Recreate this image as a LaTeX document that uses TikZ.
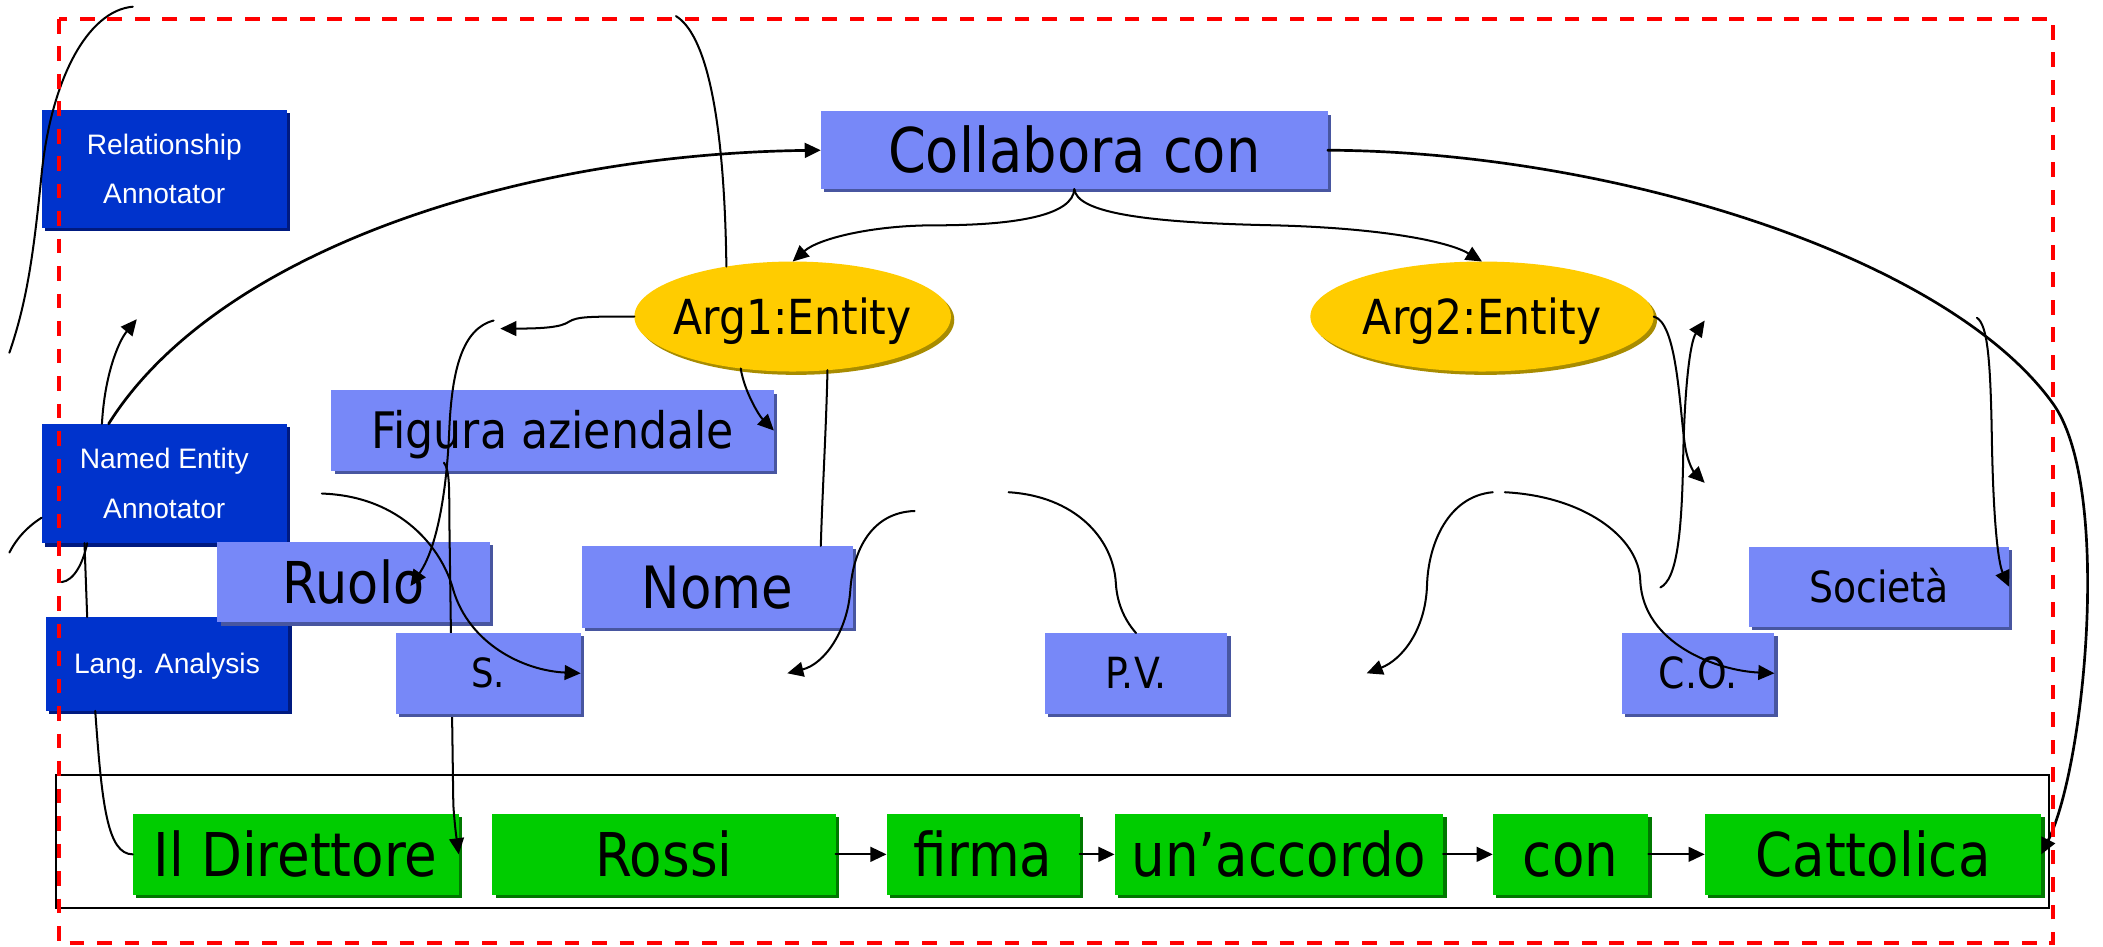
\documentclass[tikz,border=0pt]{standalone}
\usepackage{fontspec}
\setmainfont{DejaVu Sans}[FakeStretch=0.88]
\newfontfamily\annfont{Liberation Sans}
\usetikzlibrary{arrows.meta,shapes.geometric,shadows,calc}

\definecolor{peri}{RGB}{119,136,248}
\definecolor{perishadow}{RGB}{72,86,160}
\definecolor{annblue}{RGB}{0,51,204}
\definecolor{annshadow}{RGB}{0,26,128}
\definecolor{wordgreen}{RGB}{0,204,0}
\definecolor{wordshadow}{RGB}{0,120,0}
\definecolor{argyellow}{RGB}{255,204,0}
\definecolor{argshadow}{RGB}{168,140,0}

\tikzset{
  shadowed/.style={drop shadow={shadow xshift=2.5pt, shadow yshift=-2.5pt, fill=#1, opacity=1}},
  conceptbox/.style={rectangle, inner sep=0pt, outer sep=0pt, fill=peri, shadowed=perishadow, minimum height=60pt, text depth=0pt},
  wordbox/.style={rectangle, inner sep=0pt, outer sep=0pt, fill=wordgreen, shadowed=wordshadow, minimum height=60pt,
    font=\fontsize{45pt}{45pt}\selectfont, text height=32.8pt, text depth=0pt},
  annbox/.style={rectangle, inner sep=0pt, outer sep=0pt, fill=annblue, shadowed=annshadow, text=white, align=center,
    font=\annfont\fontsize{21pt}{37pt}\selectfont},
  argell/.style={ellipse, inner sep=0pt, outer sep=0pt, fill=argyellow, shadowed=argshadow, minimum width=#1, minimum height=82pt},
  argtext/.style={inner sep=0pt, font=\fontsize{36pt}{36pt}\selectfont, text height=26.3pt, text depth=0pt},
  conn/.style={line width=1.5pt, line cap=round, line join=round},
  arr/.style={conn, -{Triangle[length=12pt,width=11pt]}},
}

\begin{document}
\begin{tikzpicture}[x=1pt, y=-1pt]
\useasboundingbox (0,0) rectangle (1568,706);
\fill[white] (0,0) rectangle (1568,706);

% sentence frame
\draw[line width=1.5pt] (42,578) rectangle (1528,677);

% annotators
\node[annbox, minimum width=183pt, minimum height=88pt] (rel) at (122.5,126) {Relationship\\Annotator};
\node[annbox, minimum width=183pt, minimum height=89pt] (nea) at (122.5,360.5) {Named Entity\\Annotator};
\node[annbox, minimum width=181pt, minimum height=70pt, text height=15pt, text depth=0pt] (lang) at (124.5,495) {Lang. Analysis};

% relation and arguments
\node[conceptbox, minimum width=378pt, minimum height=58pt, font=\fontsize{46pt}{46pt}\selectfont, text height=33.6pt] (collab) at (801,112) {Collabora con};
\node[argell=236pt] (arg1) at (591,236) {};
\node[argtext] (arg1t) at (arg1) {Arg1:Entity};
\node[argell=256pt] (arg2) at (1105,236) {};
\node[argtext] (arg2t) at (arg2) {Arg2:Entity};

% entity types and features
\node[conceptbox, minimum width=330pt, font=\fontsize{37.5pt}{37.5pt}\selectfont, text height=27.4pt] (figura) at (412,321) {Figura aziendale};
\node[conceptbox, minimum width=203pt, font=\fontsize{43pt}{43pt}\selectfont, text height=31.4pt] (ruolo) at (263.5,434) {Ruolo};
\node[conceptbox, minimum width=202pt, minimum height=61pt, font=\fontsize{43.5pt}{43.5pt}\selectfont, text height=31.8pt] (nome) at (535,437.5) {Nome};
\node[conceptbox, minimum width=136pt, font=\fontsize{32pt}{32pt}\selectfont, text height=23.4pt] (pv) at (847,502) {P.V.};
\node[conceptbox, minimum width=114pt, font=\fontsize{32pt}{32pt}\selectfont, text height=23.4pt] (co) at (1266,502) {C.O.};
\node[conceptbox, minimum width=194pt, font=\fontsize{32pt}{32pt}\selectfont, text height=23.4pt] (soc) at (1401,437.5) {Società};

% words of the sentence
\node[wordbox, minimum width=243pt] (w1) at (220.5,637) {Il Direttore};
\node[wordbox, minimum width=256pt] (w2) at (495,637) {Rossi};
\node[wordbox, minimum width=144pt] (w3) at (733,637) {firma};
\node[wordbox, minimum width=245pt] (w4) at (953.5,637) {un’accordo};
\node[wordbox, minimum width=116pt] (w5) at (1171,637) {con};
\node[wordbox, minimum width=251pt] (w6) at (1396.5,637) {Cattolica};

% free ends of connectors
\coordinate (c4b) at (102,238);
\coordinate (c5a) at (99,5);
\coordinate (c5b) at (7,263);
\coordinate (c6a) at (504,12);
\coordinate (tipL) at (373,245);
\coordinate (c8a) at (368,239);
\coordinate (c8b) at (306,437);
\coordinate (c9a) at (331,345);
\coordinate (c12a) at (240,368);
\coordinate (c13a) at (682,381);
\coordinate (c13b) at (587,502);
\coordinate (c14a) at (752,367);
\coordinate (c15a) at (1113,367);
\coordinate (c15b) at (1019,502);
\coordinate (c16a) at (1122,367);
\coordinate (c17b) at (1271,360);
\coordinate (c18a) at (1238,438);
\coordinate (c18b) at (1271,239);
\coordinate (c19a) at (1474,237);
\coordinate (c23b) at (46,434);
\coordinate (c24b) at (7,412);

% long vertical link, passing behind the S. box
\draw[arr] (c9a) .. controls (335,350) and (335,362) .. (335,385) -- (338,600) .. controls (339,615) and (340,622) .. (w1.east);
\node[conceptbox, minimum width=138pt, font=\fontsize{30pt}{30pt}\selectfont, text height=21.9pt] (sbox) at (364,502) {S.};

% relation to its arguments
\draw[arr] (collab.south) .. controls (800,160) and (760,168) .. (697,168) .. controls (650,168) and (610,178) .. (arg1.north);
\draw[arr] (collab.south) .. controls (803,158) and (850,166) .. (950,168) .. controls (1030,170) and (1080,180) .. (arg2.north);

% annotator links
\draw[arr, line width=2pt] ($(nea.north west)+(50,0)$) .. controls (160,190) and (380,115) .. (collab.west);
\draw[arr] ($(nea.north west)+(45,0)$) .. controls (78,280) and (88,255) .. (c4b);
\draw[conn] (c5a) .. controls (65,8) and (38,60) .. (31,130) .. controls (25,190) and (20,225) .. (c5b);
\draw[conn] ($(nea.south west)+(32,0)$) -- ($(lang.north west)+(31,0)$);
\draw[conn] ($(nea.south west)+(34,0)$) .. controls (62,420) and (55,433) .. (c23b);
\draw[conn] ($(nea.south west)+(0,-19)$) .. controls (20,393) and (12,402) .. (c24b);
\draw[conn] ($(lang.south west)+(37,0)$) .. controls (76,600) and (80,637) .. (w1.west);

% first argument
\draw[conn] (c6a) .. controls (525,25) and (540,80) .. (arg1.143);
\draw[arr] (arg1.west) .. controls (440,236) and (430,236) .. (424,240) .. controls (418,244) and (405,245) .. (tipL);
\draw[arr] (c8a) .. controls (345,245) and (337,275) .. (335,320) .. controls (333,370) and (325,410) .. (c8b);
\draw[arr] (arg1.225) .. controls (555,292) and (566,310) .. (figura.east);
\draw[conn] (arg1.303) .. controls (616,320) and (613,370) .. ($(nome.north west)+(178,0)$);
\draw[arr] (c12a) .. controls (300,370) and (330,410) .. (338,440) .. controls (350,480) and (390,500) .. (sbox.east);
\draw[arr] (c13a) .. controls (650,382) and (636,410) .. (634,440) .. controls (632,470) and (615,495) .. (c13b);
\draw[conn] (c14a) .. controls (800,370) and (830,400) .. (832,435) .. controls (833,452) and (840,464) .. (pv.north);

% second argument
\draw[arr] (c15a) .. controls (1080,370) and (1065,405) .. (1064,436) .. controls (1063,470) and (1045,492) .. (c15b);
\draw[arr] (c16a) .. controls (1180,370) and (1222,400) .. (1223,433) .. controls (1225,480) and (1280,500) .. (co.east);
\draw[arr] (arg2.east) .. controls (1250,240) and (1252,300) .. (1256,330) .. controls (1258,345) and (1263,352) .. (c17b);
\draw[arr] (c18a) .. controls (1250,432) and (1254,400) .. (1255,340) .. controls (1256,290) and (1260,255) .. (c18b);
\draw[arr] (c19a) .. controls (1482,242) and (1484,270) .. (1485,320) .. controls (1486,390) and (1490,420) .. (soc.east);
\draw[arr, line width=2pt] (collab.east) .. controls (1200,113) and (1450,190) .. (1530,300) .. controls (1575,360) and (1555,570) .. (w6.east);

% word sequence
\draw[arr] (w2.east) -- (w3.west);
\draw[arr] (w3.east) -- (w4.west);
\draw[arr] (w4.east) -- (w5.west);
\draw[arr] (w5.east) -- (w6.west);

% annotation scope
\draw[red, line width=3pt, dash pattern=on 11pt off 9.5pt] (44,14) rectangle (1531,703);
\end{tikzpicture}
\end{document}
